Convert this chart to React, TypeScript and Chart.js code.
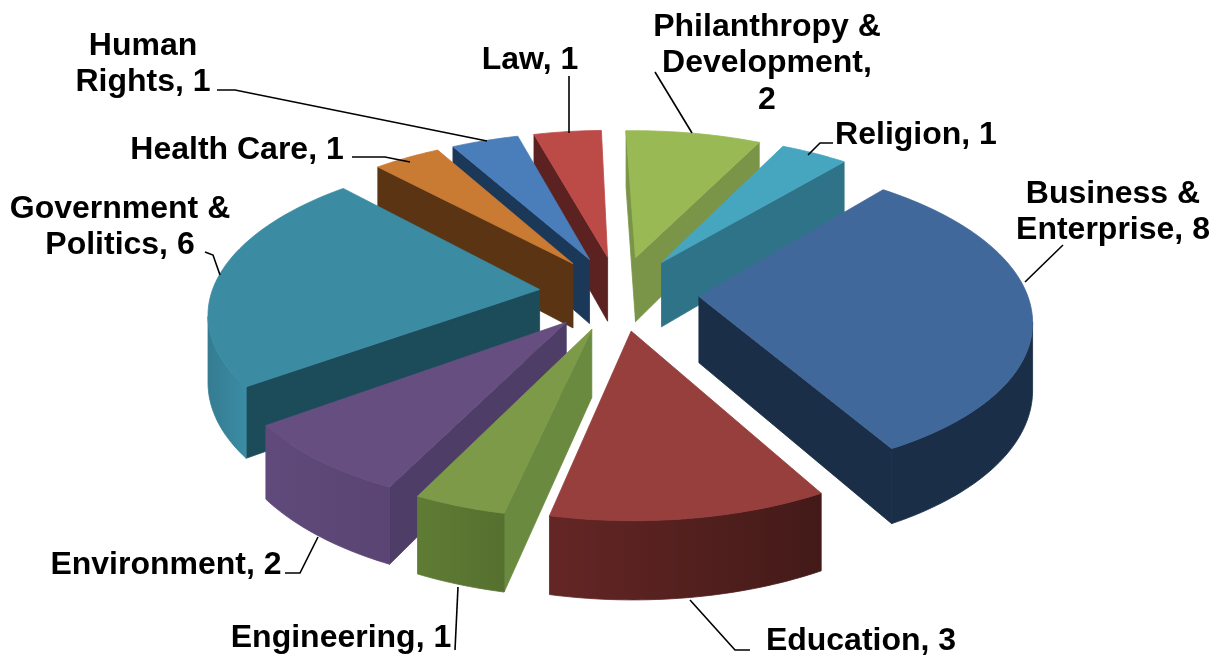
import React, { useEffect, useRef } from "react";
import { Chart, registerables } from "chart.js";

Chart.register(...registerables);

const categories = [
  "Business & Enterprise",
  "Education",
  "Engineering",
  "Environment",
  "Government & Politics",
  "Health Care",
  "Human Rights",
  "Law",
  "Philanthropy & Development",
  "Religion",
];
const counts = [8, 3, 1, 2, 6, 1, 1, 1, 2, 1];

const topColors = ["#41689A", "#963F3C", "#7C9A48", "#664F80", "#3B8CA3", "#C97A33", "#4A7EBB", "#BC4B48", "#98B954", "#46A6C0"];
const wallColors = ["#1A2E47", "#5B2826", "#698A3F", "#4E3D66", "#1C4C5A", "#5A3413", "#1C3859", "#5B2221", "#7A9448", "#2F7388"];
const rimStart = ["#1A2E47", "#431A18", "#56702F", "#594473", "#3A8CA4", "#5A3413", "#1C3859", "#5B2221", "#6F8A3F", "#2F7388"];
const rimEnd = ["#1A2E47", "#642625", "#5F7C34", "#5F4A7B", "#357C91", "#5A3413", "#1C3859", "#5B2221", "#6F8A3F", "#2F7388"];

const labelLayout = [
  { lines: ["Business &", "Enterprise, 8"], x: 1113, y: 194 },
  { lines: ["Education, 3"], x: 861, y: 641 },
  { lines: ["Engineering, 1"], x: 341, y: 638 },
  { lines: ["Environment, 2"], x: 166, y: 565 },
  { lines: ["Government &", "Politics, 6"], x: 120, y: 209 },
  { lines: ["Health Care, 1"], x: 237, y: 150 },
  { lines: ["Human", "Rights, 1"], x: 143, y: 46 },
  { lines: ["Law, 1"], x: 530, y: 60 },
  { lines: ["Philanthropy &", "Development,", "2"], x: 767, y: 27 },
  { lines: ["Religion, 1"], x: 916, y: 135 },
];
const leaders: number[][][] = [
  [[1063, 245], [1025, 282]],
  [[750, 650], [735, 650], [690, 600]],
  [[455, 650], [458, 587]],
  [[285, 573], [300, 573], [318, 537]],
  [[205, 252], [213, 255], [220, 275]],
  [[352, 157], [385, 157], [410, 162]],
  [[217, 90], [235, 90], [487, 141]],
  [[569, 76], [569, 133]],
  [[655, 72], [692, 133]],
  [[833, 143], [820, 143], [808, 155]],
];

// pseudo-3D view of the pie
const VIEW = { cx: 619, cy: 293, tilt: 0.466, dist: 2441, explode: 80, height: 66 };

function project(X: number, Y: number, z: number) {
  const w = VIEW.dist / (VIEW.dist - Y);
  return { x: VIEW.cx + X * w, y: VIEW.cy + Y * VIEW.tilt * w + z * w };
}

function poly(ctx: CanvasRenderingContext2D, pts: { x: number; y: number }[], color: any) {
  ctx.fillStyle = color;
  ctx.strokeStyle = color;
  ctx.lineWidth = 0.8;
  ctx.beginPath();
  pts.forEach((p, k) => (k ? ctx.lineTo(p.x, p.y) : ctx.moveTo(p.x, p.y)));
  ctx.closePath();
  ctx.fill();
  ctx.stroke();
}

const pie3d = {
  id: "pie3d",
  beforeDatasetDraw() {
    return false;
  },
  afterDatasetsDraw(chart: any) {
    const ctx: CanvasRenderingContext2D = chart.ctx;
    const arcs = chart.getDatasetMeta(0).data.map((el: any, i: number) => {
      const mid = (el.startAngle + el.endAngle) / 2;
      return { el, i, ax: VIEW.explode * Math.cos(mid), ay: VIEW.explode * Math.sin(mid) };
    });
    const order = [...arcs].sort((a: any, b: any) => a.ay - b.ay);
    for (const s of order) {
      const { el, i, ax, ay } = s;
      const R = el.outerRadius;
      const n = Math.max(6, Math.ceil((el.endAngle - el.startAngle) / 0.02));
      const ring: { X: number; Y: number }[] = [];
      for (let k = 0; k <= n; k++) {
        const t = el.startAngle + ((el.endAngle - el.startAngle) * k) / n;
        ring.push({ X: ax + R * Math.cos(t), Y: ay + R * Math.sin(t) });
      }
      const apexTop = project(ax, ay, 0);
      const apexBot = project(ax, ay, VIEW.height);
      const top = ring.map((p) => project(p.X, p.Y, 0));
      const bot = ring.map((p) => project(p.X, p.Y, VIEW.height));
      // radial walls that face the viewer
      if (top[0].x < apexTop.x) poly(ctx, [apexTop, top[0], bot[0], apexBot], wallColors[i]);
      if (apexTop.x < top[n].x) poly(ctx, [top[n], apexTop, apexBot, bot[n]], wallColors[i]);
      // visible part of the rim
      const vis: number[] = [];
      for (let k = 0; k < n; k++) {
        if (top[k + 1].x < top[k].x) {
          if (!vis.length) vis.push(k);
          vis.push(k + 1);
        }
      }
      if (vis.length) {
        const a = vis[0];
        const b = vis[vis.length - 1];
        const g = ctx.createLinearGradient(top[a].x, 0, top[b].x, 0);
        g.addColorStop(0, rimStart[i]);
        g.addColorStop(1, rimEnd[i]);
        poly(ctx, [...vis.map((k) => top[k]), ...vis.map((k) => bot[k]).reverse()], g);
      }
      // top face
      poly(ctx, [apexTop, ...top], topColors[i]);
    }
    // leader lines
    ctx.strokeStyle = "#000";
    ctx.lineWidth = 1.6;
    for (const pts of leaders) {
      ctx.beginPath();
      pts.forEach((p, k) => (k ? ctx.lineTo(p[0], p[1]) : ctx.moveTo(p[0], p[1])));
      ctx.stroke();
    }
    // labels
    ctx.fillStyle = "#000";
    ctx.font = 'bold 32px "Liberation Sans"';
    ctx.textAlign = "center";
    ctx.textBaseline = "middle";
    for (const l of labelLayout) {
      l.lines.forEach((t, k) => ctx.fillText(t, l.x, l.y + k * 36.5));
    }
  },
};

export default function App() {
  const ref = useRef<HTMLCanvasElement>(null);
  useEffect(() => {
    document.body.style.margin = "0";
    document.body.style.background = "#fff";
    const chart = new Chart(ref.current!, {
      type: "pie",
      data: {
        labels: categories,
        datasets: [{ data: counts, backgroundColor: topColors, borderWidth: 0 }],
      },
      options: {
        responsive: false,
        animation: false,
        rotation: 40,
        radius: 328,
        plugins: { legend: { display: false }, tooltip: { enabled: false } },
      },
      plugins: [pie3d],
    } as any);
    return () => chart.destroy();
  }, []);
  return <canvas ref={ref} width={1218} height={656} style={{ display: "block" }} />;
}
